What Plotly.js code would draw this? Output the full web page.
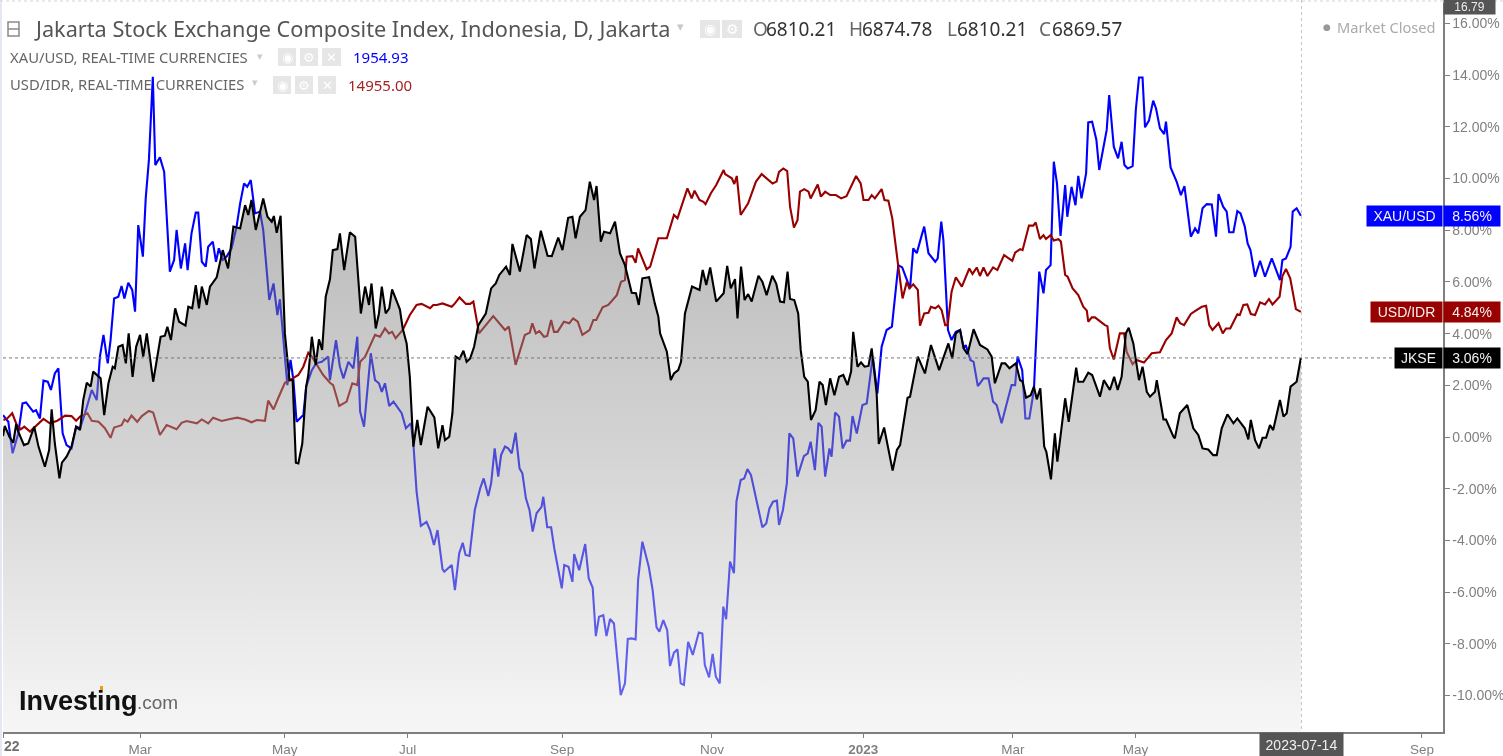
<!DOCTYPE html>
<html>
<head>
<meta charset="utf-8">
<script src="https://cdn.plot.ly/plotly-3.0.1.min.js"></script>
<style>html,body{margin:0;padding:0;background:#fff;overflow:hidden}#chart{width:1503px;height:756px;filter:blur(0.45px)}</style>
</head>
<body>
<div id="chart"></div>
<script>
// x = trading session number, y = % change since the start of the chart
const jkseSessions = [0,0.5,1.8,2.9,3.7,4.3,5.9,7.1,8.8,10,11.8,13,13.7,14.6,15.9,16.6,17.9,19.3,20.6,21.7,22.6,23.6,24.7,25.4,27.5,28.5,29.7,30.9,31.5,32.5,33.7,34.6,35.4,36.5,37.5,38.6,39.5,40.5,42.3,44.4,45.6,46.3,47.3,48.5,49.6,51.4,52.2,53.3,54.3,55.2,56,57.4,58.3,60.2,61.9,63.4,64.9,66.8,68.2,69.1,70,71.2,73.3,74.5,75.7,76.3,77.1,78.2,79.4,80.7,81.6,82.5,83.2,84.3,85.4,86,87,88.1,89,89.9,90.9,92.1,92.9,94.2,94.9,96.1,97.7,99.2,100.8,102,103.1,103.8,105,105.9,106.7,107.8,108.8,109.6,111.8,112.6,113.7,114.6,115.6,116.7,117.7,119.6,121.5,122.6,123.8,124.5,125.7,126.6,127.5,128.6,129.7,130.6,131.6,132.7,133.9,136,137.5,138.8,139.8,141.7,142.8,143.5,145.6,147.5,148.7,149.7,151.5,153.4,154.6,156.4,157.6,159.2,160.4,161.3,162.5,164.1,165.3,166.5,167.2,168.4,169.3,171,172.4,173.8,175.2,177.1,178.3,179.1,180.1,182,183.6,184.6,185.1,187,188.1,189,190.2,191,192.1,194.1,196.2,197.1,198.1,199.2,200.9,203,204,205,206.2,206.9,207.9,208.9,209.9,210.9,212.8,213.9,215.1,216.7,217.8,218.9,220,221,221.7,222.9,224,224.7,225.7,226.7,227.6,228.9,230,230.9,231.8,233,234.2,235.5,236.7,237.9,238.9,239.5,240.7,241.7,242.7,243.8,244.7,246.1,246.7,248.2,250.6,251.8,252.7,254.8,255.5,257.7,259.7,261.4,263.7,266.3,267.4,268.4,269.6,270.6,271.7,273.4,275.2,277.3,278.5,279.4,281.3,282.3,283.5,285.3,286.5,287.2,288.2,289.5,290.4,291.2,292.2,293.3,293.9,295.2,296.3,297,299.2,300.2,302.3,302.9,304.3,305.7,306.8,309,310.1,311.8,313,314,315.1,316.3,317.1,318.4,320,321,322.2,323.1,324.5,325,326.9,327.6,329.7,330.1,331.5,333.6,335.3,336.7,337.9,339.5,340.9,341.9,343.3,344.9,346.6,347.7,349.8,350.8,351.5,352.7,353.8,354.8,355.8,356.9,357.8,359.7,360.7,361.6,362.7,364.4,365.6];
const jkseValues = [0.04,0.43,0.01,-0.22,0.50,0.21,-0.31,-0.25,0.40,-0.37,-1.15,-0.50,1.07,-0.25,-1.60,-0.99,-0.76,-0.37,0.40,0.27,1.43,2.10,1.95,2.53,2.27,0.85,2.08,2.72,2.66,3.49,3.56,2.85,4.01,2.33,3.49,3.95,3.11,4.01,2.14,3.88,3.92,4.27,3.75,4.98,4.46,4.31,5.04,4.98,5.88,4.98,5.82,5.11,5.82,6.18,7.23,6.52,8.14,8.07,8.97,8.59,9.17,8.01,9.23,8.52,8.33,8.55,7.90,8.56,4.01,2.20,2.20,-0.99,-1.02,-0.25,1.95,2.40,3.88,2.79,3.78,3.37,5.43,6.10,7.23,7.27,7.88,6.46,7.92,7.75,4.78,5.82,5.11,5.94,4.20,4.78,5.82,4.78,4.98,5.71,4.94,4.20,3.62,2.33,-0.37,0.66,-0.31,1.17,0.76,-0.44,0.46,-0.12,0.01,0.92,3.11,3.02,3.34,2.91,3.04,3.49,4.33,4.78,5.75,5.94,6.27,6.59,6.27,7.47,6.40,7.81,7.66,6.52,7.98,7.01,7.00,7.72,7.23,8.48,8.52,7.69,8.52,8.78,9.88,9.17,9.71,7.56,7.94,7.88,8.33,7.10,6.65,5.58,5.56,5.11,6.14,6.18,5.17,4.66,4.01,3.30,2.20,2.46,2.59,2.91,4.78,5.82,5.69,6.46,5.88,6.56,5.24,5.56,6.62,5.75,6.11,4.59,6.59,5.30,5.53,5.24,6.24,6.01,5.49,6.24,5.94,5.24,5.21,6.40,5.34,5.30,4.78,3.37,2.33,2.14,0.66,1.04,2.14,2.01,1.24,2.27,1.62,2.33,2.40,2.01,2.53,4.07,2.72,2.89,2.72,2.75,3.43,1.69,-0.27,0.37,-1.30,-0.50,-0.31,1.52,1.56,3.11,2.46,3.56,2.59,3.62,3.04,4.01,4.14,3.43,3.21,4.17,3.56,3.39,3.11,2.08,2.85,2.85,2.66,2.85,2.20,2.14,1.52,1.62,1.95,1.46,1.88,-0.37,-0.57,-1.64,0.14,-0.95,1.50,0.59,2.68,2.14,2.14,2.49,2.40,1.56,2.20,1.82,2.33,1.82,2.33,4.01,4.23,3.62,2.20,2.72,1.75,1.56,1.75,2.20,0.68,0.68,0.01,-0.05,0.92,1.24,0.34,0.08,-0.44,-0.48,-0.70,-0.70,0.34,0.88,0.53,0.72,0.34,-0.09,0.66,-0.12,-0.44,-0.03,-0.03,0.46,0.27,1.43,0.79,0.92,1.95,2.14,3.06];

const xauSessions = [0,1.5,2.7,4.3,5.5,6.5,8.5,9.3,10.4,11.4,12.6,13.5,14.6,15.6,16.8,17.9,19.3,20.6,21.7,23.1,25,26.4,27.3,28.3,29.5,30.3,31.3,32.5,33.4,34.2,35.3,36.4,37.2,38.1,39.4,40.2,41.1,42.2,42.9,44.2,45.4,47,48.2,48.9,50.1,51.3,52,53.1,54.3,55,56,57.1,57.8,59.1,60,60.8,61.9,63,64.4,65.8,66.8,67.9,68.8,69.8,71,72.4,73.3,75,76.2,77.3,78,79.4,80.1,81,81.8,82.7,84.6,85.4,87,88.2,89.8,91.6,92.1,93.8,94.9,95.9,97.3,98.7,99.8,100.6,101.7,103.6,104.8,105.9,106.7,107.6,108.8,110,112.3,113.5,114.9,115.6,116.5,117.7,119.3,120.3,121.4,122.4,123.8,124.3,126.4,127.3,128.5,129.5,130.3,131.4,132.9,134.4,135.4,136.7,137.5,138.5,139.5,140.3,141.4,142.3,143.3,144.4,145.5,146.3,147.3,148.3,149.2,150.3,151.7,152.2,153.3,154.4,155.3,157.4,158.1,159.3,160.4,160.9,162.3,164,165,166.1,167,167.9,169.1,170,171,172.1,173.1,174,175.2,176,177.1,178.2,178.9,180.1,181.9,183,184.1,184.9,186,187.1,187.9,189,190,190.9,191.8,193,194.3,196,197,197.7,198.9,199.9,200.8,201.9,202.9,203.7,204.8,205.9,206.6,207.8,208.8,209.7,210.7,212.8,213.9,215,215.9,216.9,218,218.6,219.7,220.8,221.5,222.6,223.8,225.6,226.7,227.5,228.7,229.7,230.6,231.6,232.8,233.4,234.4,235.5,236.5,237.6,238.6,239.3,240.5,242.1,243.3,245,246.3,247.5,248.9,250.4,252.2,253.3,255.5,256.4,257.4,258.8,259.5,260.7,262.6,263.3,264.3,264.9,266.2,267.2,268.4,269.6,270.6,271.2,272.5,273.4,274.6,275.2,276.2,277.6,278.9,279.9,281.3,284.1,285.1,285.8,287.1,288,289.1,290.4,291,291.9,293.1,293.8,295.1,296,296.9,297.9,299.2,299.8,301,302.1,302.9,303.8,305.1,305.7,306.8,308,308.8,310.9,311.6,312.9,314.1,315.1,315.9,316.8,317.5,318.2,319.1,320,321,321.7,322.8,324,324.8,325.9,327.1,327.6,328.9,330.6,331.8,332.8,334.6,335.8,336.7,337.9,339.1,340.5,341.7,342.4,343.7,344.7,345.4,346.6,347.7,348.6,349.8,350.6,351.4,352.7,354.1,355.5,357.4,359.7,360.4,361.4,362.7,363.3,364.4,365.6];
const xauValues = [0.85,0.59,-0.63,0.14,1.30,1.34,0.98,1.04,0.72,2.18,2.14,1.82,2.46,2.66,0.14,-0.31,-0.44,0.40,0.34,0.92,1.82,1.43,3.11,3.95,2.85,3.75,5.36,5.43,5.84,5.36,5.97,5.69,4.85,8.20,6.98,9.23,10.72,13.94,10.52,10.82,10.26,6.40,6.85,8.01,6.52,7.49,6.46,7.88,8.68,8.68,6.78,6.59,7.36,7.56,6.78,7.30,6.85,6.98,7.30,8.14,9.04,9.81,9.68,9.94,8.65,8.72,8.01,5.30,5.94,4.72,5.33,3.11,2.01,2.98,2.20,0.59,0.85,1.95,2.59,2.85,2.91,3.11,2.20,3.75,2.72,2.27,2.91,2.66,3.88,0.98,0.40,3.24,2.20,2.08,1.75,2.08,1.20,1.37,0.92,0.34,0.53,-0.25,-2.11,-3.44,-3.28,-3.60,-4.18,-3.60,-5.11,-5.21,-4.95,-5.92,-4.50,-4.09,-4.56,-4.60,-2.82,-1.99,-1.60,-2.28,-1.79,-0.44,-1.53,-0.70,-0.37,-0.44,-0.63,0.17,-1.21,-1.40,-2.37,-2.82,-3.66,-2.95,-2.70,-2.31,-3.49,-3.49,-4.31,-5.85,-4.95,-5.02,-5.60,-4.53,-5.15,-4.14,-5.47,-5.82,-7.70,-6.95,-6.89,-7.70,-7.04,-7.21,-8.76,-9.98,-9.53,-7.81,-7.79,-7.83,-5.53,-4.05,-5.02,-5.92,-7.36,-7.53,-7.08,-7.47,-8.86,-8.34,-8.21,-9.53,-9.59,-7.92,-8.43,-7.56,-7.60,-8.82,-9.30,-8.39,-9.27,-9.53,-6.56,-7.05,-4.82,-5.27,-2.50,-1.66,-1.60,-1.24,-1.47,-2.82,-3.49,-3.34,-2.76,-2.50,-2.46,-3.40,-2.82,-1.79,0.14,-0.05,-1.53,-0.74,-0.63,-0.18,-1.28,0.55,0.40,-1.53,-0.44,-0.76,0.95,0.79,-0.44,-0.14,-0.14,0.81,0.14,1.24,1.30,3.11,1.69,3.49,4.14,4.27,6.65,6.56,5.75,7.30,7.11,7.81,8.14,7.11,6.78,6.91,8.33,7.62,4.14,3.75,4.07,4.14,3.43,3.56,2.98,2.91,1.97,2.08,2.27,2.27,1.37,1.24,0.53,2.01,2.01,3.11,2.59,0.72,0.72,1.82,3.49,6.40,5.56,6.46,6.65,10.65,9.81,7.78,9.75,8.52,9.68,8.97,10.10,9.23,10.20,12.17,12.20,11.49,10.33,11.88,13.23,11.23,10.78,11.42,10.52,10.39,10.43,10.48,12.65,13.91,13.91,11.98,12.24,13.01,12.71,11.94,11.72,12.20,10.43,9.88,9.36,9.71,7.75,8.07,7.88,8.85,9.01,9.00,7.75,9.40,8.91,8.72,7.92,7.92,8.74,8.65,8.14,7.49,7.23,6.20,6.82,6.20,6.91,6.07,6.85,6.91,7.36,8.72,8.85,8.56];

const idrSessions = [0.1,1.2,2.6,3.9,5,6,7.6,9.2,11.4,13.2,15.3,17.5,19.3,20.6,21.7,23.8,25,26.9,28.7,30.3,31.3,33.4,34.2,35.1,36.2,37.8,39.1,41.1,42.3,44.2,46.1,48.9,50.3,51.7,54.6,56,57.8,59.2,61.6,64,66,68.2,70,71.5,73.8,74.7,76.2,77.5,79.4,81.6,83.2,84.6,86,87,88.4,90.2,92.1,93,94.7,96.8,98.4,99.8,100.6,102,104.8,106.2,107.6,108.7,109.6,110.6,112.6,114.6,116.5,117.9,120.3,121.2,122.2,123.8,126.4,127.3,128.6,130.4,131.6,132.5,134.1,138.1,141.4,142.5,144.4,147,148.4,149.1,150.1,151.1,152.4,153.3,154.4,155.2,156.2,158,159.5,160.6,161.9,163.2,165.2,166.3,167.1,168.9,170.5,172.9,174.1,175.2,175.7,177.3,178.2,178.9,181.3,182.3,184.6,187,189,190,192.8,194,194.8,196.2,197.3,197.9,199.4,200.9,203,203.4,205.3,206,206.7,207.8,209.9,212.1,213.7,216.8,217.9,218.6,219.8,220.9,221.7,222.8,223.8,224.5,225.7,226.9,227.5,229.5,230.4,231.6,233,234.6,236.1,237.6,240.3,241.6,242.4,243.8,244.7,245.6,247.5,248.3,249.4,250.5,252.2,253.4,254.6,255.3,256.4,257.7,258.3,259.5,260.7,261.4,262.6,263.5,264.4,265.4,266.1,267.2,268.4,270.1,272.2,273.1,274.3,275.2,276.2,277.3,278.9,280.1,282,284.3,285.1,286.5,287.2,289,290.2,290.9,292.1,293.1,293.8,295.1,296,297.3,298,299.2,299.9,301.3,302.9,304.3,305.3,305.7,306.7,307.6,310.4,311.1,311.8,312.9,314.6,315.8,316.5,318.2,319.3,321.4,323.6,325.9,327.6,329.2,330.6,331.6,332.7,334.6,336.2,337.7,338.9,339.8,340.7,342.4,343.6,344.5,345.7,347.7,348.4,349.4,350.5,351.5,352.7,354.1,355.5,356.6,357.6,359.6,360.4,361.4,362.6,364.2,365.6];
const idrValues = [0.66,0.72,0.92,0.46,0.30,0.40,0.21,0.43,0.70,0.53,0.63,0.83,0.81,0.63,0.79,0.92,0.63,0.59,0.34,-0.03,0.37,0.46,0.68,0.59,0.83,0.59,0.81,1.01,0.95,0.08,0.46,0.30,0.55,0.62,0.53,0.68,0.53,0.75,0.62,0.70,0.75,0.68,0.57,0.66,0.63,1.41,1.07,1.50,2.10,2.27,2.40,2.72,3.26,3.11,2.79,2.40,2.10,2.01,1.20,1.37,2.08,2.01,2.91,3.11,3.95,3.88,4.20,4.01,4.07,3.82,4.14,4.72,5.11,5.15,4.98,5.11,5.11,5.17,5.04,5.17,5.40,5.15,5.15,5.24,4.01,4.68,4.14,4.27,2.79,3.95,4.04,4.40,4.01,4.10,3.88,3.91,4.53,4.07,4.07,4.46,4.40,4.59,4.46,3.95,4.14,4.53,4.53,5.02,5.11,5.49,6.01,6.07,6.98,7.00,6.74,7.30,6.49,6.59,7.69,7.69,8.59,8.46,9.62,9.23,9.53,9.17,9.10,9.01,9.43,9.75,10.33,10.17,10.01,9.79,10.10,8.59,9.04,9.88,10.17,9.81,9.88,10.26,10.39,10.29,8.91,8.10,8.39,9.49,9.59,9.49,9.23,9.77,9.30,9.49,9.36,9.36,9.23,9.32,10.10,9.81,9.17,9.17,9.36,9.23,9.59,9.17,9.14,8.46,6.59,5.36,6.01,5.75,5.91,5.69,4.31,4.78,4.81,5.04,4.98,5.08,4.91,4.33,4.33,5.62,6.18,5.82,6.52,6.31,6.56,6.23,6.56,6.23,6.56,6.46,7.04,6.82,7.13,7.27,7.23,8.18,8.18,8.30,7.66,7.81,7.66,7.81,7.60,7.65,7.56,6.27,6.20,5.75,5.49,5.04,4.89,4.46,4.63,4.63,4.33,4.29,3.43,3.00,4.01,4.01,3.30,2.82,2.98,2.88,3.24,3.28,3.75,4.01,4.63,4.40,4.33,4.76,4.91,5.04,5.08,4.33,4.14,4.40,4.01,4.20,4.20,4.75,4.72,5.11,5.13,4.76,4.72,5.21,5.13,5.34,5.13,5.43,6.23,6.50,6.14,4.95,4.84];

const xTickSessions = [0,38.6,79.4,114,157.5,199.7,242.3,284.5,319,365.6,399.7];
const xTickLabels = ['','Mar','May','Jul','Sep','Nov','<b>2023</b>','Mar','May','','Sep'];
const yTickValues = [16,14,12,10,8,6,4,2,0,-2,-4,-6,-8,-10];
const yTickLabels = ['16.00%','14.00%','12.00%','10.00%','8.00%','6.00%','4.00%','2.00%','0.00%','-2.00%','-4.00%','-6.00%','-8.00%','-10.00%'];
const firstYearLabel = '22';
const lastDate = '2023-07-14';
const yTop = 16.79, yFloor = -11.41;
const BLUE = '#0000ff', RED = '#990000', BLACK = '#000000';

// page-pixel helpers for the chart furniture
const L = 3, R = 1443, T = 3, B = 732;
const fx = p => (p - L) / (R - L);
const fy = p => 1 - (p - T) / (B - T);
const SANS = '"Liberation Sans", Arial, sans-serif';
const HEAD = '"Noto Sans", sans-serif';

function label(text, x, y, size, color, family, anchor) {
  return {text, xref:'paper', yref:'paper', x:fx(x), y:fy(y), xanchor:anchor||'left', yanchor:'middle',
          showarrow:false, borderpad:0, font:{size, color, family:family||HEAD}};
}
function valueBox(text, left, right, top, bottom, bg, color, size, fam) {
  return {text, xref:'paper', yref:'paper', x:fx((left+right)/2), y:fy((top+bottom)/2), xanchor:'center', yanchor:'middle',
          width:right-left, height:bottom-top, align:'center', valign:'middle', bgcolor:bg, showarrow:false, borderpad:0,
          font:{size, color, family:fam||SANS}};
}
function seriesTag(name, value, bg, leftEdge) {
  const yc = (y => T + (yTop - y) / (yTop - yFloor) * (B - T))(value);
  return [
    valueBox(name, leftEdge, 1442, yc-10, yc+10, bg, '#f2f2f2', 14),
    valueBox(value.toFixed(2)+'%', 1444, 1500, yc-10, yc+10, bg, '#f2f2f2', 14)
  ];
}
const shapes = [];
function rect(x0,y0,x1,y1,fill,line,w){ shapes.push({type:'rect',xref:'paper',yref:'paper',x0:fx(x0),x1:fx(x1),y0:fy(y0),y1:fy(y1),fillcolor:fill,line:{color:line||fill,width:w||0}}); }
function seg(x0,y0,x1,y1,color,w,dash){ shapes.push({type:'line',xref:'paper',yref:'paper',x0:fx(x0),x1:fx(x1),y0:fy(y0),y1:fy(y1),line:{color,width:w,dash:dash||'solid'}}); }

const annotations = [];
function icons(list, y0, y1, size) {
  list.forEach(([x0,x1,g]) => { rect(x0,y0,x1,y1,'#e6e6e6');
    annotations.push(label(g,(x0+x1)/2,(y0+y1)/2,size,'#ffffff','"DejaVu Sans"','center')); });
}
// frame
rect(0,0,2,756,'#e4e8f2');
seg(0,1,1503,1,'#d4d4d4',1,'dot');
// crosshair
seg(1301.5,0,1301.5,732,'#c4c4c4',1,'dot');
const lastJ = jkseValues[jkseValues.length-1];
shapes.push({type:'line',xref:'paper',yref:'y',x0:0,x1:1,y0:lastJ,y1:lastJ,line:{color:'#777777',width:1,dash:'dot'}});
// header
shapes.push({type:'rect',xref:'paper',yref:'paper',x0:fx(8),x1:fx(19),y0:fy(22),y1:fy(36),fillcolor:'rgba(0,0,0,0)',line:{color:'#8a8a8a',width:1.5}});
seg(8,29,19,29,'#8a8a8a',1.5);
annotations.push(label('Jakarta Stock Exchange Composite Index, Indonesia, D, Jakarta',33,28,21.7,'#555555'));
annotations.push(label('▾',680,27,13,'#c8c8c8','"DejaVu Sans"','center'));
icons([[700,720,'◉'],[722,742,'⚙']],20,38,14);
[['O',752,'6810.21',765],['H',848,'6874.78',861],['L',946,'6810.21',956],['C',1038,'6869.57',1051]].forEach(([k,kx,v,vx])=>{
  annotations.push(label(k,kx,29,19,'#666666'));
  annotations.push(label(v,vx,29,19,'#333333'));
});
annotations.push(label('●',1327,27,9,'#999999','"DejaVu Sans"','center'));
annotations.push(label('Market Closed',1336,27,14.6,'#aaaaaa'));
// legend rows
annotations.push(label('XAU/USD, REAL-TIME CURRENCIES',9,57,14.8,'#666666'));
annotations.push(label('▾',260,56,11,'#cccccc','"DejaVu Sans"','center'));
icons([[278,296,'◉'],[300,318,'⚙'],[322,341,'✕']],48,66,13);
annotations.push(label('1954.93',352,57,15,BLUE));
annotations.push(label('USD/IDR, REAL-TIME CURRENCIES',9,84,14.8,'#666666'));
annotations.push(label('▾',255,83,11,'#cccccc','"DejaVu Sans"','center'));
icons([[273,291,'◉'],[295,313,'⚙'],[318,336,'✕']],76,94,13);
annotations.push(label('14955.00',347,85,15,'#a52222'));
// value tags
annotations.push(...seriesTag('XAU/USD', xauValues[xauValues.length-1], BLUE, 1367));
annotations.push(...seriesTag('USD/IDR', idrValues[idrValues.length-1], RED, 1371));
annotations.push(...seriesTag('JKSE', lastJ, BLACK, 1395));
annotations.push(valueBox(yTop.toFixed(2),1444,1495,0,14,'#555555','#eeeeee',12));
annotations.push(valueBox(lastDate,1260,1343,733,756,'#555555','#f0f0f0',14));
annotations.push(label('<b>'+firstYearLabel+'</b>',3,746,14,'#707070',SANS));
// logo
annotations.push(label('<b>Investing</b>',18,701,27,'#111111',SANS));
annotations.push(label('.com',136,702,19,'#666666',SANS));
rect(100,686,103,690,'#f39c12');

const lineTrace = (name,x,y,color) => ({type:'scatter',mode:'lines',name,x,y,line:{color,width:2.1,shape:'linear'},hoverinfo:'skip',cliponaxis:true});
const traces = [
  lineTrace('XAU/USD',xauSessions,xauValues,BLUE),
  lineTrace('USD/IDR',idrSessions,idrValues,RED),
  {type:'scatter',mode:'lines',name:'floor',x:[jkseSessions[0],jkseSessions[jkseSessions.length-1]],y:[yFloor,yFloor],line:{width:0,color:'rgba(0,0,0,0)'},hoverinfo:'skip'},
  {type:'scatter',mode:'lines',name:'JKSE',x:jkseSessions,y:jkseValues,fill:'tonexty',line:{color:BLACK,width:2.1},hoverinfo:'skip',
   fillcolor:'rgba(150,150,150,0.45)',
   fillgradient:{type:'vertical',start:yFloor,stop:10,colorscale:[[0,'rgba(235,235,235,0.44)'],[0.5,'rgba(162,162,162,0.46)'],[1,'rgba(111,111,111,0.5)']]}}
];
const layout = {
  width:1503,height:756,autosize:false,showlegend:false,
  paper_bgcolor:'#ffffff',plot_bgcolor:'#ffffff',
  margin:{l:L,r:1503-R,t:T,b:756-B,pad:0},
  font:{family:SANS},
  xaxis:{type:'linear',range:[0,(R-L)/3.55],tickmode:'array',tickvals:xTickSessions,ticktext:xTickLabels,
    showgrid:false,zeroline:false,showline:true,linecolor:'#7f7f7f',linewidth:1.5,ticks:'outside',ticklen:4,tickcolor:'#7f7f7f',tickwidth:1,
    tickfont:{size:13.5,color:'#808080',family:SANS},tickangle:0,fixedrange:true},
  yaxis:{side:'right',range:[yFloor,yTop],tickmode:'array',tickvals:yTickValues,ticktext:yTickLabels,
    showgrid:false,zeroline:false,showline:true,linecolor:'#7f7f7f',linewidth:1.5,ticks:'outside',ticklen:5,tickcolor:'#7f7f7f',tickwidth:1,
    tickfont:{size:14,color:'#808080',family:SANS},fixedrange:true},
  shapes,annotations
};
Plotly.newPlot('chart',traces,layout,{displayModeBar:false,staticPlot:true});
</script>
</body>
</html>
